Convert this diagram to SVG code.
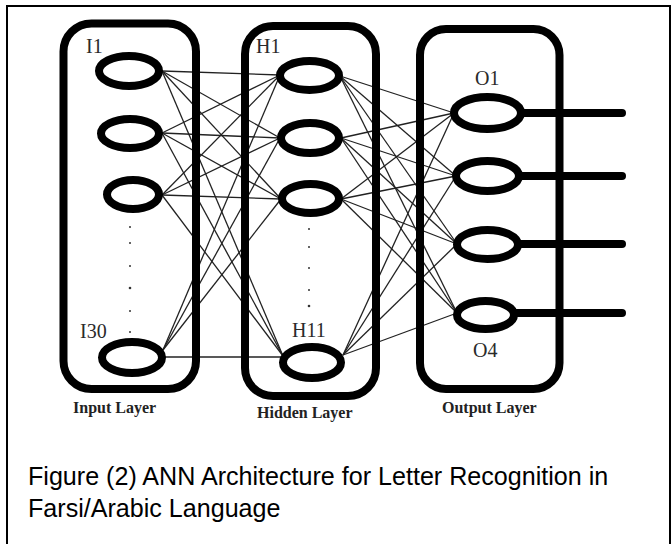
<svg xmlns="http://www.w3.org/2000/svg" width="672" height="544" viewBox="0 0 672 544">
<style>
.frame{fill:none;stroke:#000;stroke-width:2}
.layer{fill:none;stroke:#000;stroke-width:8}
.node{fill:#fff;stroke:#000;stroke-width:8}
.out{stroke:#000;stroke-width:8;stroke-linecap:round}
.conn line{stroke:#222;stroke-width:1.3}
.lbl{font-family:"Liberation Serif","Times New Roman",serif;font-size:20px;fill:#2a2a2a}
.ll{font-family:"Liberation Serif","Times New Roman",serif;font-size:16px;font-weight:bold;fill:#222}
.cap{font-family:"Liberation Sans",Arial,sans-serif;font-size:25.1px;fill:#000}
.dot{fill:#333}
</style>
<rect x="0" y="0" width="672" height="544" fill="#fff"/>
<rect class="frame" x="7" y="6" width="663" height="540"/>
<g id="connectors" class="conn">
<line x1="162" y1="71" x2="280" y2="75"/>
<line x1="162" y1="71" x2="280" y2="138"/>
<line x1="162" y1="71" x2="281" y2="199"/>
<line x1="162" y1="71" x2="283" y2="356"/>
<line x1="162" y1="133" x2="280" y2="75"/>
<line x1="162" y1="133" x2="280" y2="138"/>
<line x1="162" y1="133" x2="281" y2="199"/>
<line x1="162" y1="133" x2="283" y2="356"/>
<line x1="162" y1="195" x2="280" y2="75"/>
<line x1="162" y1="195" x2="280" y2="138"/>
<line x1="162" y1="195" x2="281" y2="199"/>
<line x1="162" y1="195" x2="283" y2="356"/>
<line x1="163" y1="350" x2="280" y2="75"/>
<line x1="163" y1="350" x2="280" y2="138"/>
<line x1="163" y1="350" x2="281" y2="199"/>
<line x1="163" y1="357" x2="283" y2="357"/>
<line x1="340" y1="76" x2="454" y2="113"/>
<line x1="340" y1="76" x2="456" y2="176"/>
<line x1="340" y1="76" x2="457" y2="244"/>
<line x1="340" y1="76" x2="457" y2="313"/>
<line x1="341" y1="138" x2="454" y2="113"/>
<line x1="341" y1="138" x2="456" y2="176"/>
<line x1="341" y1="138" x2="457" y2="244"/>
<line x1="341" y1="138" x2="457" y2="313"/>
<line x1="341" y1="199" x2="454" y2="113"/>
<line x1="341" y1="199" x2="456" y2="176"/>
<line x1="341" y1="199" x2="457" y2="244"/>
<line x1="341" y1="199" x2="457" y2="313"/>
<line x1="343" y1="355" x2="454" y2="113"/>
<line x1="343" y1="355" x2="456" y2="176"/>
<line x1="343" y1="355" x2="457" y2="244"/>
<line x1="343" y1="355" x2="457" y2="313"/>
</g>
<g id="input-layer">
<rect class="layer" x="63.5" y="23.5" width="132.5" height="365.5" rx="28"/>
<text class="ll" x="73" y="413">Input Layer</text>
</g>
<g id="hidden-layer">
<rect class="layer" x="245" y="26" width="131" height="370" rx="28"/>
<text class="ll" x="257" y="418">Hidden Layer</text>
</g>
<g id="output-layer">
<rect class="layer" x="420" y="29" width="139.5" height="360" rx="26"/>
<text class="ll" x="442" y="413">Output Layer</text>
</g>
<g id="input-dots">
<circle class="dot" cx="130" cy="227" r="1"/>
<circle class="dot" cx="130" cy="243" r="1"/>
<circle class="dot" cx="130" cy="266" r="1"/>
<circle class="dot" cx="130" cy="288" r="1.3"/>
<circle class="dot" cx="130" cy="311" r="1"/>
<circle class="dot" cx="130" cy="332" r="1"/>
</g>
<g id="hidden-dots">
<circle class="dot" cx="309" cy="229" r="1"/>
<circle class="dot" cx="309" cy="247" r="1"/>
<circle class="dot" cx="309" cy="268" r="1"/>
<circle class="dot" cx="309" cy="290" r="1"/>
<circle class="dot" cx="309" cy="306" r="1.3"/>
</g>
<g id="I1"><ellipse class="node" cx="129" cy="71" rx="30" ry="15"/><text class="lbl" x="86" y="53">I1</text></g>
<g id="I2"><ellipse class="node" cx="130" cy="133.5" rx="29" ry="14.5"/></g>
<g id="I3"><ellipse class="node" cx="133" cy="194.5" rx="26" ry="14.5"/></g>
<g id="I30"><ellipse class="node" cx="132" cy="357.5" rx="30" ry="15.5"/><text class="lbl" x="80" y="338">I30</text></g>
<g id="H1"><ellipse class="node" cx="309.5" cy="75.5" rx="29.5" ry="14.5"/><text class="lbl" x="256" y="53">H1</text></g>
<g id="H2"><ellipse class="node" cx="310" cy="138" rx="29" ry="15"/></g>
<g id="H3"><ellipse class="node" cx="310.5" cy="198.5" rx="28.5" ry="14.5"/></g>
<g id="H11"><ellipse class="node" cx="312" cy="362.5" rx="29" ry="15.5"/><text class="lbl" x="292" y="337">H11</text></g>
<g id="O1"><line class="out" x1="521" y1="113" x2="622" y2="113"/><ellipse class="node" cx="487.5" cy="113" rx="33.5" ry="16"/><text class="lbl" x="475" y="85">O1</text></g>
<g id="O2"><line class="out" x1="519" y1="176" x2="622" y2="176"/><ellipse class="node" cx="487.5" cy="176" rx="31.5" ry="15"/></g>
<g id="O3"><line class="out" x1="518" y1="244" x2="622" y2="244"/><ellipse class="node" cx="487.5" cy="244.5" rx="30.5" ry="14.5"/></g>
<g id="O4"><line class="out" x1="514" y1="313" x2="622" y2="313"/><ellipse class="node" cx="485.5" cy="315" rx="28.5" ry="14"/><text class="lbl" x="473" y="357">O4</text></g>
<g id="caption">
<text class="cap" x="28" y="485">Figure (2) ANN Architecture for Letter Recognition in</text>
<text class="cap" x="28" y="517">Farsi/Arabic Language</text>
</g>
</svg>
